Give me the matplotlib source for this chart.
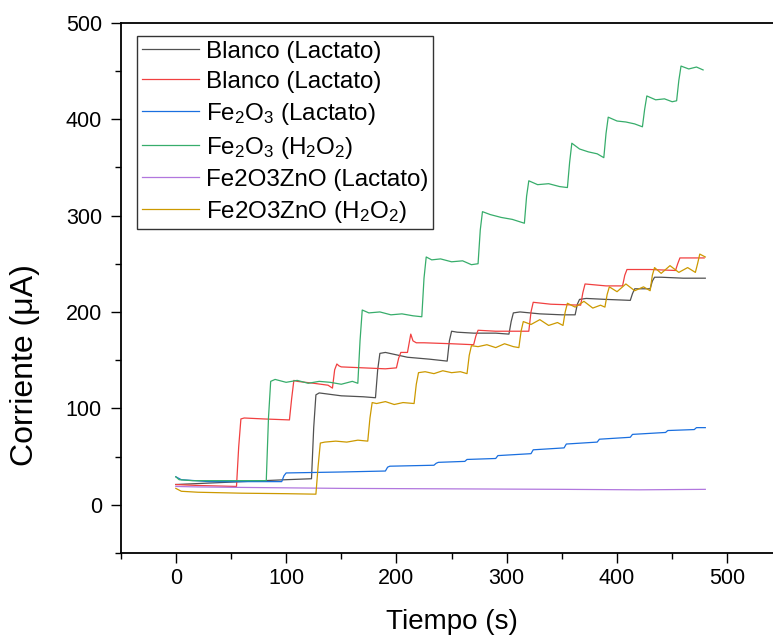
import matplotlib
matplotlib.use("Agg")
import matplotlib.pyplot as plt
from matplotlib.ticker import MultipleLocator

plt.rcParams['font.family'] = ['Liberation Sans', 'DejaVu Sans']
plt.rcParams['mathtext.default'] = 'regular'

# vertices (time in s, current in uA)
black_t = [0, 20, 60, 100, 123, 125, 127, 130, 150, 170, 181, 183, 185, 190, 210,
           230, 246, 248, 250, 255, 270, 290, 302, 304, 306, 312, 330, 350, 362, 364,
           366, 372, 390, 412, 414, 416, 422, 430, 432, 434, 440, 460, 480]
black_y = [21, 22, 24, 26, 27, 80, 114, 116, 113, 112, 111, 140, 157, 158, 153,
           151, 149, 170, 180, 179, 178, 178, 177, 190, 199, 200, 198, 197, 197, 208,
           213, 214, 213, 212, 219, 224, 224, 224, 232, 236, 236, 235, 235]

red_t = [0, 20, 55, 57, 59, 62, 80, 103, 105, 107, 110, 125, 138, 142, 144,
         146, 148, 150, 170, 190, 200, 202, 204, 210, 213, 215, 218, 225, 250, 270,
         272, 274, 290, 320, 322, 324, 340, 367, 369, 371, 390, 405, 407, 409, 430,
         453, 455, 457, 470, 479]
red_y = [21, 20, 19, 60, 89, 90, 89, 88, 110, 129, 128, 126, 124, 121, 140,
         146, 144, 143, 142, 141, 142, 152, 158, 158, 177, 170, 168, 168, 167, 166,
         175, 181, 180, 180, 200, 210, 208, 207, 220, 229, 227, 227, 238, 244, 244,
         243, 250, 256, 256, 256]

blue_t = [0, 5, 30, 96, 98, 100, 150, 190, 192, 194, 234, 236, 238, 262, 264,
          290, 292, 322, 324, 352, 354, 382, 384, 412, 414, 444, 446, 470, 472, 480]
blue_y = [29, 26, 24, 24, 30, 33, 34, 35, 39, 40, 41, 43, 44, 45, 47,
          48, 51, 53, 57, 59, 63, 65, 68, 70, 73, 75, 77, 78, 80, 80]

green_t = [0, 3, 15, 50, 82, 84, 86, 90, 100, 110, 120, 130, 140, 150, 160,
           165, 167, 169, 175, 185, 195, 205, 215, 223, 225, 227, 232, 240, 250, 260,
           268, 274, 276, 278, 285, 295, 305, 316, 318, 320, 328, 338, 348, 355, 357,
           359, 366, 374, 382, 388, 390, 392, 400, 408, 416, 423, 425, 427, 435, 443,
           450, 454, 456, 458, 465, 472, 478]
green_y = [29, 26, 25, 25, 25, 90, 128, 130, 127, 129, 126, 128, 127, 125, 128,
           126, 170, 202, 199, 200, 197, 198, 196, 195, 235, 257, 254, 255, 252, 253,
           249, 250, 285, 304, 301, 298, 296, 292, 320, 336, 332, 333, 330, 329, 355,
           375, 369, 366, 364, 360, 385, 402, 398, 397, 395, 392, 410, 424, 420, 421,
           418, 419, 440, 455, 452, 454, 451]

purple_t = [0, 20, 60, 150, 250, 350, 420, 480]
purple_y = [19, 18.5, 18, 17, 16.5, 16, 15.5, 16]

gold_t = [0, 5, 20, 60, 100, 127, 129, 131, 135, 145, 155, 165, 174, 176, 178,
          182, 190, 198, 206, 216, 218, 220, 226, 234, 242, 250, 258, 264, 266, 268,
          274, 282, 290, 298, 306, 311, 313, 315, 322, 330, 338, 346, 351, 353, 355,
          362, 370, 378, 385, 389, 391, 393, 400, 408, 416, 424, 430, 432, 434, 440,
          448, 456, 464, 471, 473, 475, 480]
gold_y = [17, 14, 13, 12, 11.5, 11, 40, 64, 65, 66, 65, 67, 66, 90, 106,
          105, 107, 104, 106, 105, 125, 137, 138, 136, 139, 137, 138, 136, 155, 165,
          164, 166, 163, 167, 164, 163, 180, 190, 187, 192, 186, 189, 186, 200, 209,
          205, 211, 204, 207, 205, 218, 226, 221, 229, 222, 226, 222, 238, 246, 240,
          248, 241, 246, 241, 250, 260, 257]

labels = ['Blanco (Lactato)', 'Blanco (Lactato)', 'Fe$_2$O$_3$ (Lactato)',
          'Fe$_2$O$_3$ (H$_2$O$_2$)', 'Fe2O3ZnO (Lactato)', 'Fe2O3ZnO (H$_2$O$_2$)']
colors = ['#515151', '#F14040', '#1A6FDF', '#37AD6B', '#B177DE', '#CC9900']

fig = plt.figure(figsize=(7.73, 6.37), dpi=100)
ax = fig.add_axes([0.1561, 0.1319, 0.8562, 0.8325])

series = [(black_t, black_y), (red_t, red_y), (blue_t, blue_y),
          (green_t, green_y), (purple_t, purple_y), (gold_t, gold_y)]
for (t, y), lab, c in zip(series, labels, colors):
    ax.plot(t, y, color=c, lw=0.9, label=lab)

ax.set_xlim(-50, 550)
ax.set_ylim(-50, 500)
ax.xaxis.set_major_locator(MultipleLocator(100))
ax.xaxis.set_minor_locator(MultipleLocator(50))
ax.yaxis.set_major_locator(MultipleLocator(100))
ax.yaxis.set_minor_locator(MultipleLocator(50))
ax.tick_params(which='major', direction='out', length=7, width=1, labelsize=15.5)
ax.tick_params(which='minor', direction='out', length=4, width=1)
ax.tick_params(axis='x', which='major', pad=4)
ax.tick_params(axis='y', which='major', pad=6.5)
ax.spines['right'].set_visible(False)
for s in ['left', 'bottom', 'top']:
    ax.spines[s].set_linewidth(1.3)

ax.set_xlabel('Tiempo (s)', fontsize=20)
ax.xaxis.set_label_coords(0.5, -0.105)
ax.set_ylabel('Corriente (\u03bcA)', fontsize=23)
ax.yaxis.set_label_coords(-0.122, 0.355)

leg = ax.legend(loc='upper left', bbox_to_anchor=(0.0246, 0.975), borderaxespad=0,
                fontsize=17.4, handlelength=2.35, labelspacing=0.33, handletextpad=0.3,
                fancybox=False, framealpha=1, borderpad=0.2)
leg.get_frame().set_edgecolor('#333333')
leg.get_frame().set_linewidth(1.0)

fig.savefig('out.png', dpi=100)
